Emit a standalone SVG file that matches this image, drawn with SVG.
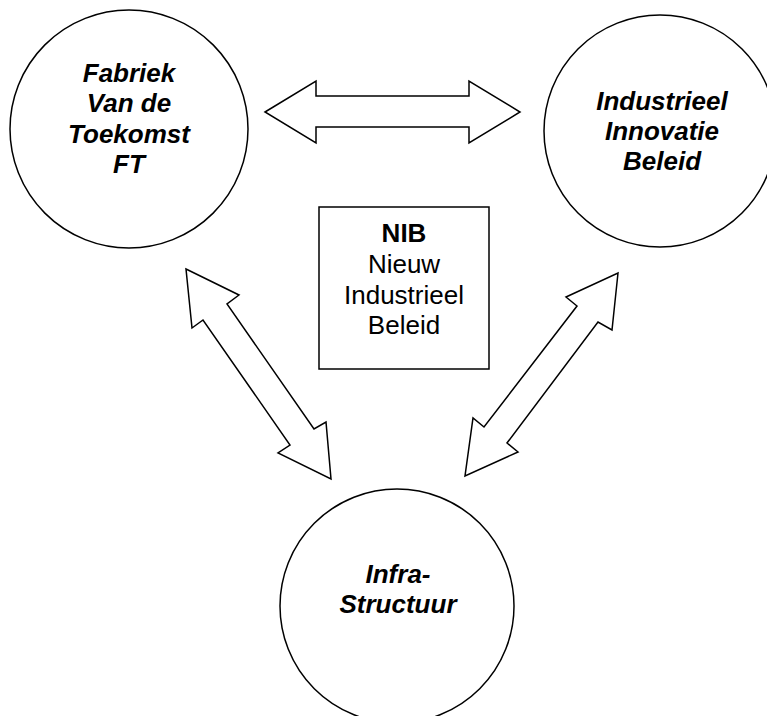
<svg xmlns="http://www.w3.org/2000/svg" width="767" height="716" viewBox="0 0 767 716">
<style>
.node{fill:#fff;stroke:#000;stroke-width:1.5}
.arrow{fill:#fff;stroke:#000;stroke-width:1.5;stroke-linejoin:miter}
.t{font-family:"Liberation Sans",Arial,sans-serif;font-size:26px;text-anchor:middle;fill:#000}
.bi{font-weight:bold;font-style:italic}
.b{font-weight:bold}
</style>
<rect width="767" height="716" fill="#fff"/>
<g id="connectors">
<polygon class="arrow" points="265,112 316,81 316,96 469,96 469,81 520,112 469,143 469,127 316,127 316,143"/>
<polygon class="arrow" points="186,269 239,295 227,304 314,429 326,422 331,479 278,453 290,445 203,320 192,328"/>
<polygon class="arrow" points="618,273 612,330 598,322 507,443 518,452 465,476 473,418 484,427 577,306 566,297"/>
</g>
<g id="fabriek">
<circle class="node" cx="129" cy="129" r="119"/>
<text class="t bi" x="129" y="82">Fabriek</text>
<text class="t bi" x="129" y="112">Van de</text>
<text class="t bi" x="129" y="143">Toekomst</text>
<text class="t bi" x="129" y="173">FT</text>
</g>
<g id="industrieel">
<circle class="node" cx="660" cy="131" r="116"/>
<text class="t bi" x="662" y="110">Industrieel</text>
<text class="t bi" x="662" y="140">Innovatie</text>
<text class="t bi" x="662" y="170">Beleid</text>
</g>
<g id="nib">
<rect class="node" x="319" y="207" width="170" height="162"/>
<text class="t b" x="404" y="242">NIB</text>
<text class="t" x="404" y="273">Nieuw</text>
<text class="t" x="404" y="304">Industrieel</text>
<text class="t" x="404" y="334">Beleid</text>
</g>
<g id="infra">
<circle class="node" cx="397" cy="606" r="117"/>
<text class="t bi" x="398" y="583">Infra-</text>
<text class="t bi" x="398" y="613">Structuur</text>
</g>
</svg>
